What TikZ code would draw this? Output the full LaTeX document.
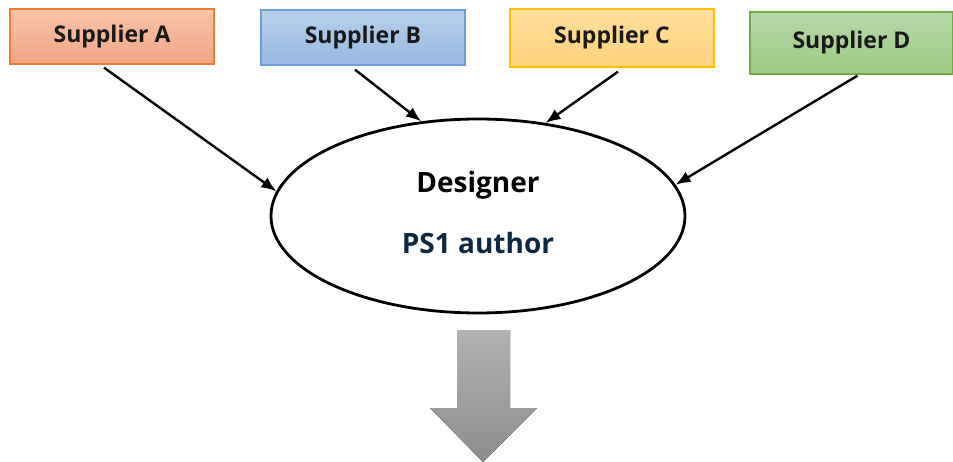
\documentclass[tikz,border=0pt]{standalone}
\usepackage{fontspec}
\setmainfont{Open Sans}
\usetikzlibrary{shapes.geometric, arrows.meta}
\definecolor{aLine}{HTML}{ED7D31}
\definecolor{aTop}{HTML}{F7C3AB}
\definecolor{aBot}{HTML}{F3A585}
\definecolor{bLine}{HTML}{6A9FD6}
\definecolor{bTop}{HTML}{B7CFEB}
\definecolor{bBot}{HTML}{98B9E2}
\definecolor{cLine}{HTML}{FFC000}
\definecolor{cTop}{HTML}{FFDE9C}
\definecolor{cBot}{HTML}{FFD27C}
\definecolor{dLine}{HTML}{70AD47}
\definecolor{dTop}{HTML}{B9D8AA}
\definecolor{dBot}{HTML}{9CCA84}
\definecolor{navy}{HTML}{0E2841}

\begin{document}
\begin{tikzpicture}[x=1pt, y=-1pt,
  supp/.style = {draw, line width=1.3pt, minimum width=204pt, minimum height=55pt,
    font=\fontsize{23}{27}\selectfont\bfseries, text=black!90},
  flow/.style = {-{Latex[length=15pt,width=12pt]}, line width=2.4pt}]
\useasboundingbox (0,0) rectangle (953,462);
\node[supp, draw=aLine, top color=aTop, bottom color=aBot] (sA) at (112,36.5) {Supplier A};
\node[supp, draw=bLine, top color=bTop, bottom color=bBot] (sB) at (363,37.5) {Supplier B};
\node[supp, draw=cLine, top color=cTop, bottom color=cBot, minimum height=58pt] (sC) at (612,38) {Supplier C};
\node[supp, draw=dLine, top color=dTop, bottom color=dBot, minimum width=203pt, minimum height=62pt] (sD) at (851.5,43) {Supplier D};
\node[draw, ellipse, line width=2.8pt, minimum width=414pt, minimum height=194pt,
  font=\fontsize{28}{34}\selectfont\bfseries] (des) at (478,216)
  {\raisebox{10pt}{\begin{tabular}{@{}c@{}}Designer\\[27pt]\textcolor{navy}{PS1 author}\end{tabular}}};
\draw[flow] ([xshift=-8pt,yshift=-3pt]sA.south) -- (des.173.5);
\draw[flow] ([xshift=-8pt,yshift=-4pt]sB.south) -- (des.121.6);
\draw[flow] ([xshift=6pt,yshift=-4pt]sC.south) -- (des.54.5);
\draw[flow] ([xshift=6pt,yshift=-1pt]sD.south) -- (des.9.4);
% block arrow
\fill[top color=black!30, bottom color=black!45]
  (457,330) -- (510,330) -- (510,408) -- (537,408) -- (483,462) -- (430,408) -- (457,408) -- cycle;
\end{tikzpicture}
\end{document}
